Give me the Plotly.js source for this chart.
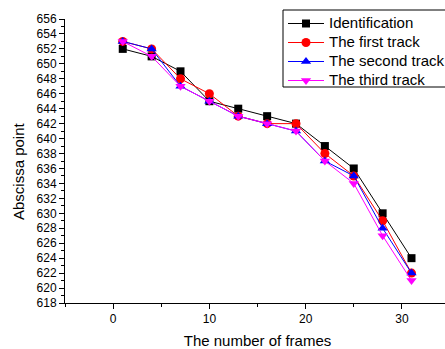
<!DOCTYPE html>
<html>
<head>
<meta charset="utf-8">
<script src="https://cdn.plot.ly/plotly-3.0.1.min.js"></script>
<style>
html,body{margin:0;padding:0;overflow:hidden;background:#fff;}
#chart{width:490px;height:349px;}
</style>
</head>
<body>
<div id="chart"></div>
<script>
const frames = [1, 4, 7, 10, 13, 16, 19, 22, 25, 28, 31];
const seriesNames = ["Identification", "The first track", "The second track", "The third track"];
const identification = [652, 651, 649, 645, 644, 643, 642, 639, 636, 630, 624];
const firstTrack = [653, 652, 648, 646, 643, 642, 642, 638, 635, 629, 622];
const secondTrack = [653, 652, 647, 645, 643, 642, 641, 637, 635, 628, 622];
const thirdTrack = [653, 651, 647, 645, 643, 642, 641, 637, 634, 627, 621];
const xTickVals = [0, 10, 20, 30];
const yTickVals = [618, 620, 622, 624, 626, 628, 630, 632, 634, 636, 638, 640, 642, 644, 646, 648, 650, 652, 654, 656];

const styles = [
  {color: "#000000", symbol: "square", size: 8},
  {color: "#FF0000", symbol: "circle", size: 9},
  {color: "#0000FF", symbol: "triangle-up", size: 9},
  {color: "#FF00FF", symbol: "triangle-down", size: 9}
];
const values = [identification, firstTrack, secondTrack, thirdTrack];

const traces = values.map((v, i) => ({
  x: frames,
  y: v,
  name: '<span style="font-size:15px">' + seriesNames[i] + '</span>',
  type: "scatter",
  mode: "lines+markers",
  line: {color: styles[i].color, width: 1},
  marker: {color: styles[i].color, symbol: styles[i].symbol, size: styles[i].size, line: {width: 0}}
}));

const font = "Liberation Sans, Arial, sans-serif";
const layout = {
  width: 490,
  height: 349,
  margin: {l: 65, r: 40, t: 19, b: 46, autoexpand: false},
  paper_bgcolor: "#ffffff",
  plot_bgcolor: "#ffffff",
  font: {family: font, size: 12, color: "#000"},
  showlegend: true,
  legend: {
    x: (283 - 65) / 385, xanchor: "left",
    yref: "container", y: (349 - 9) / 349, yanchor: "top",
    bgcolor: "rgba(0,0,0,0)", borderwidth: 0,
    font: {family: font, size: 12.3, color: "#000"},
    itemwidth: 36, tracegroupgap: 0
  },
  shapes: [{
    type: "rect", xref: "paper", yref: "paper", layer: "above",
    x0: (283 - 65) / 385, x1: (470 - 65) / 385,
    y0: (303 - 87) / 284, y1: (303 - 10) / 284,
    line: {color: "#000000", width: 1}, fillcolor: "#ffffff"
  }],
  xaxis: {
    range: [-5, 35],
    tickvals: xTickVals,
    ticktext: xTickVals.map(String),
    ticks: "outside", ticklen: 5, tickwidth: 1, tickcolor: "#000",
    minor: {dtick: 5, tick0: 0, ticks: "outside", ticklen: 3, tickcolor: "#000", showgrid: false},
    showline: true, linecolor: "#000", linewidth: 1,
    showgrid: false, zeroline: false,
    tickfont: {family: font, size: 12},
    title: {text: "The number of frames", font: {family: font, size: 15}, standoff: 12}
  },
  yaxis: {
    range: [618, 656],
    tickvals: yTickVals,
    ticktext: yTickVals.map(String),
    ticks: "outside", ticklen: 5, tickwidth: 1, tickcolor: "#000",
    minor: {dtick: 1, tick0: 618, ticks: "outside", ticklen: 3, tickcolor: "#000", showgrid: false},
    showline: true, linecolor: "#000", linewidth: 1,
    showgrid: false, zeroline: false,
    tickfont: {family: font, size: 12}
  },
  annotations: [{
    text: "Abscissa point",
    xref: "paper", yref: "paper",
    x: (18 - 65) / 385, y: (303 - 171) / 284,
    xanchor: "center", yanchor: "middle",
    textangle: -90, showarrow: false,
    font: {family: font, size: 15, color: "#000"}
  }]
};

Plotly.newPlot("chart", traces, layout, {displayModeBar: false, staticPlot: true});
</script>
</body>
</html>
